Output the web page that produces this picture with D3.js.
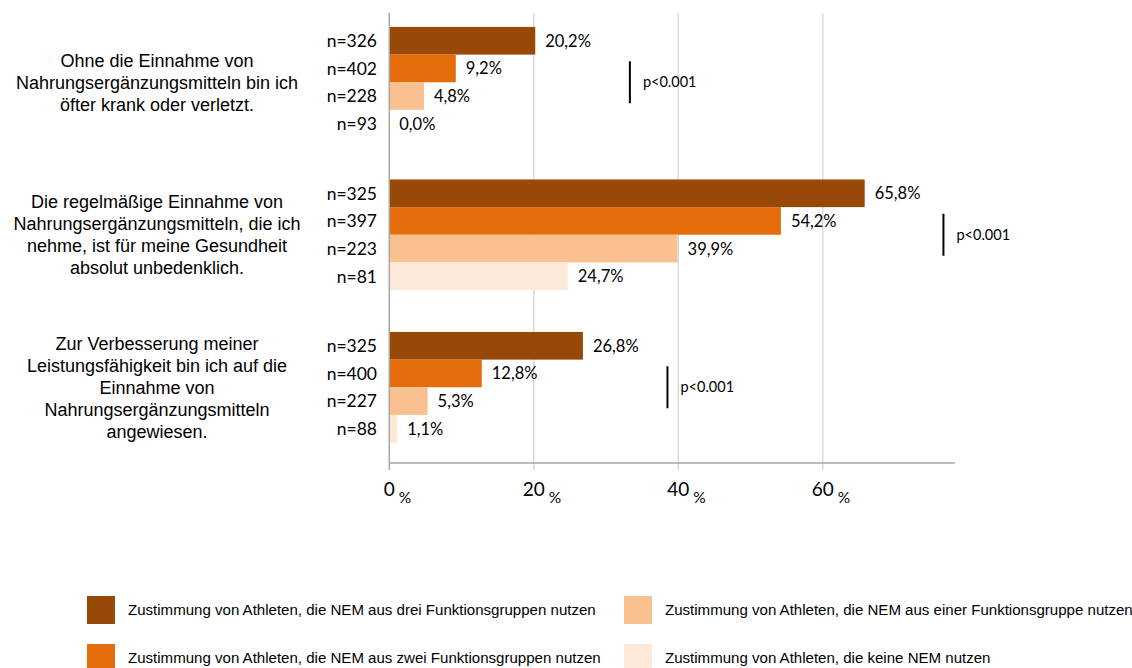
<!DOCTYPE html>
<html>
<head>
<meta charset="utf-8">
<script src="https://cdn.jsdelivr.net/npm/d3@7"></script>
<style>
  html, body { margin: 0; padding: 0; background: #fff; }
  svg { display: block; }
</style>
</head>
<body>
<svg id="chart" width="1132" height="668"></svg>
<script>
// ---- data ----
const categories = [
  ["Ohne die Einnahme von", "Nahrungsergänzungsmitteln bin ich", "öfter krank oder verletzt."],
  ["Die regelmäßige Einnahme von", "Nahrungsergänzungsmitteln, die ich", "nehme, ist für meine Gesundheit", "absolut unbedenklich."],
  ["Zur Verbesserung meiner", "Leistungsfähigkeit bin ich auf die", "Einnahme von", "Nahrungsergänzungsmitteln", "angewiesen."]
];
const seriesNames = [
  "Zustimmung von Athleten, die NEM aus drei Funktionsgruppen nutzen",
  "Zustimmung von Athleten, die NEM aus zwei Funktionsgruppen nutzen",
  "Zustimmung von Athleten, die NEM aus einer Funktionsgruppe nutzen",
  "Zustimmung von Athleten, die keine NEM nutzen"
];
const seriesColors = ["#984807", "#E46C0A", "#FAC090", "#FDE9D9"];
const valuesThree = [20.2, 65.8, 26.8];
const valuesTwo   = [9.2, 54.2, 12.8];
const valuesOne   = [4.8, 39.9, 5.3];
const valuesNone  = [0.0, 24.7, 1.1];
const nThree = [326, 325, 325];
const nTwo   = [402, 397, 400];
const nOne   = [228, 223, 227];
const nNone  = [93, 81, 88];
const pLabels = ["p<0.001", "p<0.001", "p<0.001"];
const pAt = [33.3, 76.7, 38.5];   // x position of the significance bracket (in %)
const xTicks = [0, 20, 40, 60];

const seriesValues = [valuesThree, valuesTwo, valuesOne, valuesNone];
const seriesN = [nThree, nTwo, nOne, nNone];

// ---- layout ----
const svg = d3.select("#chart");
const plotLeft = 389.3, plotRight = 955, plotTop = 13, plotBottom = 463;
const x = d3.scaleLinear().domain([0, 78.3]).range([plotLeft, plotRight]);
const catIdx = d3.range(categories.length);
const y = d3.scaleBand().domain(catIdx).range([6, 463.5]).paddingInner(0.2748).paddingOuter(0.1374);
const ySub = d3.scaleBand().domain(d3.range(seriesNames.length)).range([0, y.bandwidth()]).padding(0);

const numFont = "Lato, 'Open Sans', sans-serif";
const txtFont = "'Liberation Sans', Arial, sans-serif";

// gridlines
svg.append("g").selectAll("line").data(xTicks.filter(t => t > 0)).join("line")
  .attr("x1", d => x(d)).attr("x2", d => x(d))
  .attr("y1", plotTop).attr("y2", plotBottom + 7)
  .attr("stroke", "#d9d9d9").attr("stroke-width", 1.5);

// bars
const groups = svg.append("g").selectAll("g").data(catIdx).join("g")
  .attr("transform", c => `translate(0,${y(c)})`);

groups.each(function(c) {
  const g = d3.select(this);
  seriesValues.forEach((vals, s) => {
    const v = vals[c];
    g.append("rect")
      .attr("x", x(0)).attr("y", ySub(s))
      .attr("width", x(v) - x(0)).attr("height", ySub.bandwidth())
      .attr("fill", seriesColors[s]);
    g.append("text")
      .attr("x", x(v) + 10).attr("y", ySub(s) + ySub.bandwidth() / 2)
      .attr("dy", "0.36em")
      .attr("font-family", numFont).attr("font-size", 16.5).attr("fill", "#000")
      .text(d3.format(".1f")(v).replace(".", ",") + "%");
    g.append("text")
      .attr("x", 377).attr("y", ySub(s) + ySub.bandwidth() / 2)
      .attr("dy", "0.36em").attr("text-anchor", "end")
      .attr("font-family", numFont).attr("font-size", 17.5).attr("fill", "#000")
      .text("n=" + seriesN[s][c]);
  });
  // significance bracket
  const cy = y.bandwidth() / 2;
  g.append("line")
    .attr("x1", x(pAt[c])).attr("x2", x(pAt[c]))
    .attr("y1", cy - 21).attr("y2", cy + 21)
    .attr("stroke", "#000").attr("stroke-width", 2);
  g.append("text")
    .attr("x", x(pAt[c]) + 13).attr("y", cy).attr("dy", "0.36em")
    .attr("font-family", numFont).attr("font-size", 14.5).attr("fill", "#000")
    .text(pLabels[c]);
  // category label
  const lines = categories[c];
  const lh = 22;
  const t = g.append("text")
    .attr("text-anchor", "middle")
    .attr("font-family", txtFont).attr("font-size", 18).attr("fill", "#000");
  lines.forEach((ln, i) => {
    t.append("tspan").attr("x", 157)
      .attr("y", cy + (i - (lines.length - 1) / 2) * lh)
      .attr("dy", "0.35em").text(ln);
  });
});

// axes lines
svg.append("line").attr("x1", x(0)).attr("x2", x(0)).attr("y1", plotTop).attr("y2", plotBottom + 7)
  .attr("stroke", "#a6a6a6").attr("stroke-width", 1.5);
svg.append("line").attr("x1", x(0)).attr("x2", plotRight).attr("y1", plotBottom).attr("y2", plotBottom)
  .attr("stroke", "#a6a6a6").attr("stroke-width", 1.5);

// tick labels "0 %"
const tickG = svg.append("g");
xTicks.forEach(tk => {
  const num = tickG.append("text")
    .attr("x", x(tk)).attr("y", 496)
    .attr("text-anchor", "middle")
    .attr("font-family", numFont).attr("font-size", 19).attr("fill", "#000")
    .text(tk);
  const w = num.node().getComputedTextLength();
  tickG.append("text")
    .attr("x", x(tk) + w / 2 + 4).attr("y", 503)
    .attr("font-family", numFont).attr("font-size", 15.5).attr("fill", "#000")
    .text("%");
});

// legend
const legendPos = [
  {s: 0, x: 87, y: 596},
  {s: 2, x: 624, y: 596},
  {s: 1, x: 87, y: 644},
  {s: 3, x: 624, y: 644}
];
const legend = svg.append("g");
let sx = null;
legendPos.forEach(p => {
  legend.append("rect").attr("x", p.x).attr("y", p.y).attr("width", 28).attr("height", 28)
    .attr("fill", seriesColors[p.s]);
  const tg = legend.append("g").attr("transform", `translate(${p.x + 41},${p.y + 14})`);
  const tt = tg.append("text")
    .attr("dy", "0.35em")
    .attr("font-family", txtFont).attr("font-size", 14).attr("fill", "#000")
    .text(seriesNames[p.s]);
  if (sx === null) sx = 468 / tt.node().getComputedTextLength();
  tt.attr("transform", `scale(${sx},1)`);
});
</script>
</body>
</html>
